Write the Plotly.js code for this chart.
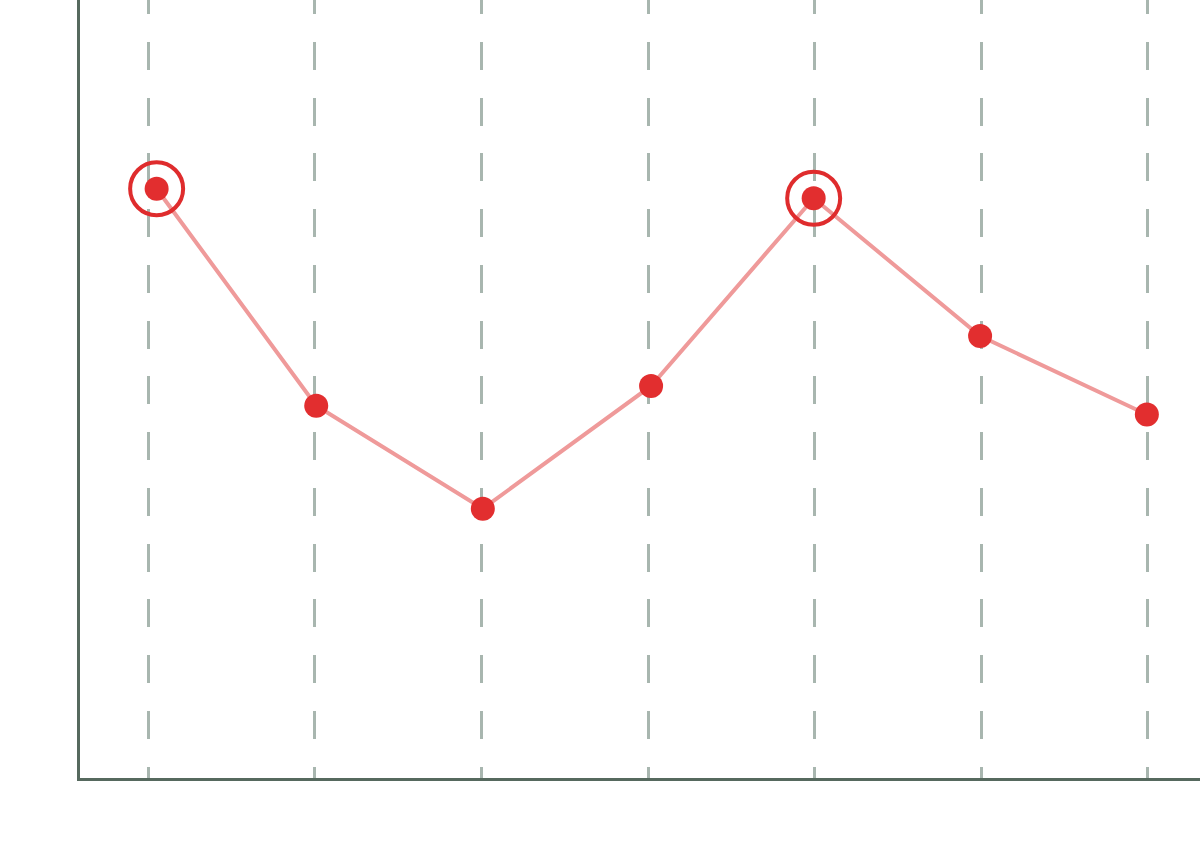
<!DOCTYPE html>
<html>
<head>
<meta charset="utf-8">
<script src="https://cdn.plot.ly/plotly-3.0.1.min.js"></script>
<style>
  html, body { margin: 0; padding: 0; background: #ffffff; overflow: hidden; }
  #chart { position: absolute; left: 0; top: -14px; width: 1200px; height: 865px; }
</style>
</head>
<body>
<div id="chart"></div>
<script>
// Data
const categoryTicks = [0, 1, 2, 3, 4, 5, 6];
const xValues = [0.05, 1.008, 2.008, 3.018, 3.994, 4.993, 5.994];
const yValues = [74.4, 47.0, 34.0, 49.5, 73.2, 55.8, 45.9];
const highlightIdx = [0, 4];

const ringX = highlightIdx.map(i => xValues[i]);
const ringY = highlightIdx.map(i => yValues[i]);

const traces = [
  {
    x: xValues, y: yValues, type: 'scatter', mode: 'lines',
    line: { color: '#ef9a9a', width: 4 },
    hoverinfo: 'skip', showlegend: false
  },
  {
    x: xValues, y: yValues, type: 'scatter', mode: 'markers',
    marker: { color: '#e22e2f', size: 24, line: { width: 0 } },
    showlegend: false
  },
  {
    x: ringX, y: ringY, type: 'scatter', mode: 'markers',
    marker: { symbol: 'circle-open', color: '#df2c2d', size: 53, line: { color: '#df2c2d', width: 4 } },
    showlegend: false
  }
];

const layout = {
  width: 1200, height: 865,
  margin: { l: 80, r: 0, t: 0, b: 73, pad: 0 },
  paper_bgcolor: '#ffffff', plot_bgcolor: '#ffffff',
  showlegend: false,
  xaxis: {
    range: [-0.41, 6.313],
    tickmode: 'array', tickvals: categoryTicks, showticklabels: false, ticks: '',
    showgrid: true, gridcolor: '#a8b6af', gridwidth: 3, griddash: '28px,27.75px',
    zeroline: false, showline: true, linecolor: '#56695e', linewidth: 3
  },
  yaxis: {
    range: [0, 100],
    showgrid: false, showticklabels: false, ticks: '',
    zeroline: false, showline: true, linecolor: '#56695e', linewidth: 3
  }
};

Plotly.newPlot('chart', traces, layout, { displayModeBar: false, staticPlot: true });
</script>
</body>
</html>
